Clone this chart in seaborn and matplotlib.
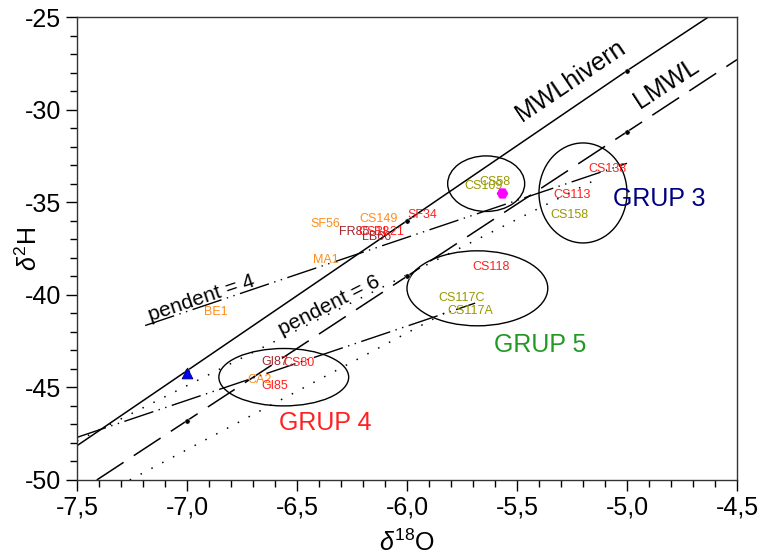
import matplotlib
matplotlib.use("Agg")
from matplotlib import pyplot as plt
from matplotlib.patches import Ellipse
from matplotlib.ticker import MultipleLocator, FuncFormatter
import pandas as pd
import seaborn as sns

# meteoric water lines
mwl_x = [-7.5, -7.0, -6.0, -5.0, -4.63]
mwl_y = [-48.15, -44.1, -36.0, -27.9, -25.0]
lmwl_x = [-7.41, -7.0, -6.0, -5.0, -4.5]
lmwl_y = [-50.0, -46.8, -39.0, -31.2, -27.3]
mwl_dot_x = [-7.0, -6.0, -5.0]
mwl_dot_y = [-44.1, -36.0, -27.9]
lmwl_dot_x = [-7.0, -6.0, -5.0]
lmwl_dot_y = [-46.8, -39.0, -31.2]

# evaporation lines (slope 4 dash-dot, slope 6 dotted)
pend4a_x = [-7.19, -5.0]
pend4a_y = [-41.66, -32.9]
pend4b_x = [-7.5, -5.69]
pend4b_y = [-47.7, -40.45]
pend6a_x = [-7.5, -5.12]
pend6a_y = [-47.9, -33.65]
pend6b_x = [-7.26, -5.8]
pend6b_y = [-50.0, -40.8]

# samples
names = ["SF56", "CS149", "SF34", "FR85", "CS18", "RL21", "LB66", "MA1", "BE1",
         "CS58", "CS109", "CS138", "CS113", "CS158", "CS118", "CS117C", "CS117A",
         "GI87", "CS80", "CA2", "GI85"]
sx = [-6.37, -6.13, -5.93, -6.24, -6.15, -6.08, -6.14, -6.37, -6.87,
      -5.6, -5.65, -5.09, -5.25, -5.26, -5.62, -5.75, -5.71,
      -6.6, -6.49, -6.67, -6.6]
sy = [-36.2, -35.9, -35.7, -36.6, -36.6, -36.6, -36.9, -38.1, -40.95,
      -33.9, -34.1, -33.2, -34.6, -35.7, -38.5, -40.2, -40.9,
      -43.65, -43.7, -44.6, -44.9]
orange, red, dred, olive = "#ff8c1a", "#ff2020", "#a02830", "#999900"
scol = [orange, orange, red, dred, red, red, dred, orange, orange,
        olive, olive, red, red, olive, red, olive, olive,
        dred, red, orange, red]

# groups (ellipses): centre x, centre y, width, height
grp_x = [-5.2, -5.64, -5.68, -6.56]
grp_y = [-34.5, -34.0, -39.65, -44.45]
grp_w = [0.40, 0.35, 0.64, 0.59]
grp_h = [5.4, 3.0, 4.05, 3.1]

sns.set_style("ticks")
plt.rcParams["font.family"] = ["Liberation Sans", "DejaVu Sans"]
plt.rcParams["mathtext.fontset"] = "custom"
plt.rcParams["mathtext.rm"] = "Liberation Sans"
plt.rcParams["mathtext.it"] = "Liberation Sans:italic"
plt.rcParams["text.color"] = "black"
plt.rcParams["axes.labelcolor"] = "black"
plt.rcParams["xtick.color"] = "black"
plt.rcParams["ytick.color"] = "black"

fig, ax = plt.subplots(figsize=(7.59, 5.6), dpi=100)
fig.subplots_adjust(left=0.1014, right=0.971, top=0.9696, bottom=0.1429)

sns.lineplot(x=mwl_x, y=mwl_y, color="black", lw=1.1, ax=ax)
sns.lineplot(x=lmwl_x, y=lmwl_y, color="black", lw=1.1, ax=ax, linestyle=(0, (21, 8)))
for lx, ly in [(pend4a_x, pend4a_y), (pend4b_x, pend4b_y)]:
    sns.lineplot(x=lx, y=ly, color="black", lw=1.0, ax=ax, linestyle=(0, (22, 4, 1, 4, 1, 4)))
for lx, ly in [(pend6a_x, pend6a_y), (pend6b_x, pend6b_y)]:
    sns.lineplot(x=lx, y=ly, color="black", lw=1.1, ax=ax, linestyle=(0, (1, 7)))
sns.scatterplot(x=mwl_dot_x + lmwl_dot_x, y=mwl_dot_y + lmwl_dot_y, color="black", s=14, ax=ax, zorder=5)
sns.scatterplot(x=[-7.0], y=[-44.25], marker="^", color="blue", s=60, edgecolor="navy", ax=ax, zorder=6)
sns.scatterplot(x=[-5.57], y=[-34.5], marker="H", color="magenta", s=60, edgecolor="magenta", ax=ax, zorder=6)

for cx, cy, w, h in zip(grp_x, grp_y, grp_w, grp_h):
    ax.add_patch(Ellipse((cx, cy), w, h, fill=False, ec="black", lw=1.0))

for n, x, y, c in zip(names, sx, sy, scol):
    ax.text(x, y, n, color=c, fontsize=9, ha="center", va="center")

line_txt = dict(ha="center", va="baseline", rotation_mode="anchor")
ax.text(-5.237, -28.78, "MWLhivern", fontsize=18, rotation=34, **line_txt)
ax.text(-4.805, -28.9, "LMWL", fontsize=18, rotation=33, **line_txt)
ax.text(-6.925, -40.45, "pendent = 4", fontsize=15, rotation=18.6, **line_txt)
ax.text(-6.34, -40.85, "pendent = 6", fontsize=15, rotation=26.8, **line_txt)
ax.text(-4.855, -34.8, "GRUP 3", fontsize=18, color="#000080", ha="center", va="center")
ax.text(-5.395, -42.7, "GRUP 5", fontsize=18, color="#229922", ha="center", va="center")
ax.text(-6.37, -46.9, "GRUP 4", fontsize=18, color="#ff2020", ha="center", va="center")

ax.set_xlim(-7.5, -4.5)
ax.set_ylim(-50, -25)
ax.xaxis.set_major_locator(MultipleLocator(0.5))
ax.xaxis.set_minor_locator(MultipleLocator(0.1))
ax.yaxis.set_major_locator(MultipleLocator(5))
ax.yaxis.set_minor_locator(MultipleLocator(1))
ax.xaxis.set_major_formatter(FuncFormatter(lambda v, p: f"{v:.1f}".replace(".", ",")))
ax.yaxis.set_major_formatter(FuncFormatter(lambda v, p: f"{v:.0f}"))
ax.tick_params(which="major", length=8, width=1, labelsize=18, direction="out")
ax.tick_params(which="minor", length=5, width=1, direction="out")
for s in ax.spines.values():
    s.set_linewidth(1.0)
    s.set_color("#333333")
ax.set_xlabel(r"$\delta^{18}$O", fontsize=18)
ax.set_ylabel(r"$\delta^{2}$H", fontsize=18)
ax.xaxis.set_label_coords(0.5, -0.108)
ax.yaxis.set_label_coords(-0.053, 0.5)

fig.savefig("out.png", dpi=100)
